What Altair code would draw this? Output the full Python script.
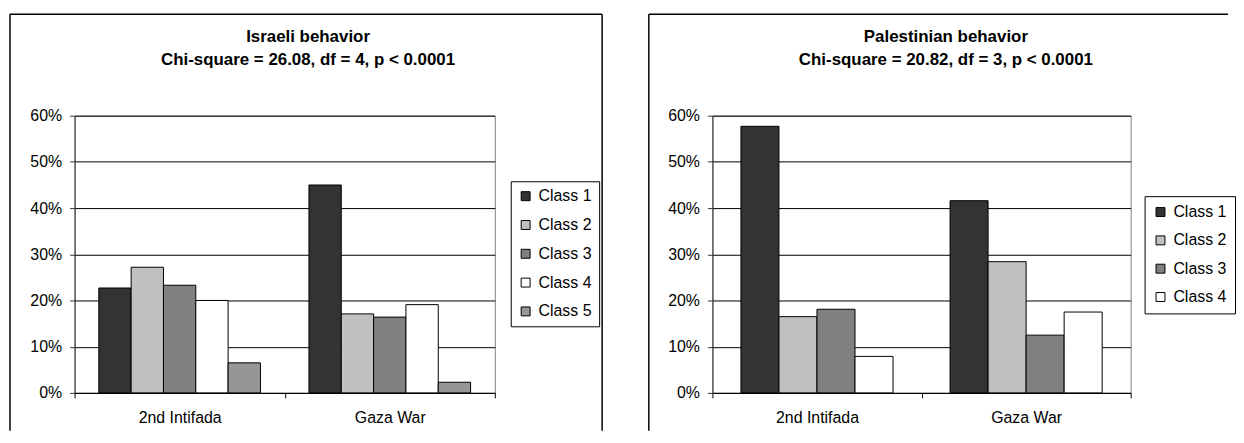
import altair as alt
import pandas as pd

PERIODS = ["2nd Intifada", "Gaza War"]

IL_CLASSES = ["Class 1", "Class 2", "Class 3", "Class 4", "Class 5"]
IL_INTIFADA = [22.7, 27.2, 23.3, 20.0, 6.5]
IL_GAZA = [45.0, 17.1, 16.4, 19.1, 2.3]
IL_TITLE = ["Israeli behavior", "Chi-square = 26.08, df = 4, p < 0.0001"]

PA_CLASSES = ["Class 1", "Class 2", "Class 3", "Class 4"]
PA_INTIFADA = [57.7, 16.5, 18.1, 7.9]
PA_GAZA = [41.6, 28.4, 12.5, 17.5]
PA_TITLE = ["Palestinian behavior", "Chi-square = 20.82, df = 3, p < 0.0001"]

CLASS_COLORS = ["#333333", "#c0c0c0", "#808080", "#ffffff", "#969696"]
Y_TICKS = [0, 10, 20, 30, 40, 50, 60]

FONT = "Liberation Sans"


def make_df(classes, intifada, gaza):
    rows = []
    for period, vals in zip(PERIODS, [intifada, gaza]):
        for c, v in zip(classes, vals):
            rows.append({"period": period, "cls": c, "value": v})
    return pd.DataFrame(rows)


def panel(df, classes, titles, width, legend_x, legend_y, row_pad, leg_pad,
          border_left, border_right, draw_right):
    one = pd.DataFrame({"k": [0]})
    bars = alt.Chart(df).mark_bar(stroke="black", strokeWidth=1).encode(
        x=alt.X("period:N", sort=PERIODS, title=None,
                scale=alt.Scale(paddingInner=0, paddingOuter=0),
                axis=alt.Axis(labelAngle=0, tickBand="extent", grid=False,
                              domainColor="#000000", tickColor="#000000",
                              tickSize=5, labelPadding=12, labelFontSize=16,
                              labelFont=FONT, labelColor="#000000")),
        xOffset=alt.XOffset("cls:N", sort=classes,
                            scale=alt.Scale(paddingInner=0, paddingOuter=0.75)),
        y=alt.Y("value:Q", title=None,
                scale=alt.Scale(domain=[0, 60], nice=False),
                axis=alt.Axis(values=Y_TICKS, labelExpr="datum.value + '%'",
                              grid=True, gridColor="#000000", gridWidth=1,
                              domainColor="#333333", tickColor="#333333",
                              tickSize=5, labelPadding=8, labelFontSize=16,
                              labelFont=FONT, labelColor="#000000")),
        color=alt.Color("cls:N", sort=classes,
                        scale=alt.Scale(domain=classes,
                                        range=CLASS_COLORS[:len(classes)]),
                        legend=alt.Legend(orient="none", legendX=legend_x,
                                          legendY=legend_y, title=None,
                                          symbolType="square", symbolSize=81,
                                          symbolStrokeColor="#000000",
                                          symbolStrokeWidth=1,
                                          labelFontSize=16, labelFont=FONT,
                                          labelColor="#000000",
                                          rowPadding=row_pad, padding=leg_pad,
                                          labelOffset=5,
                                          strokeColor="#000000",
                                          fillColor="#ffffff")),
    )
    t1 = alt.Chart(one).mark_text(fontSize=17, fontWeight="bold", font=FONT,
                                  align="center", baseline="middle",
                                  color="#000000").encode(
        x=alt.value(235), y=alt.value(-79), text=alt.value(titles[0]))
    t2 = alt.Chart(one).mark_text(fontSize=17, fontWeight="bold", font=FONT,
                                  align="center", baseline="middle",
                                  color="#000000").encode(
        x=alt.value(235), y=alt.value(-56), text=alt.value(titles[1]))
    rl = alt.Chart(one).mark_rule(color="#000000", strokeWidth=1.5).encode(
        x=alt.value(border_left), y=alt.value(-102), y2=alt.value(317))
    rt = alt.Chart(one).mark_rule(color="#000000", strokeWidth=1.5).encode(
        x=alt.value(border_left), x2=alt.value(border_right), y=alt.value(-102))
    layers = [bars, t1, t2, rl, rt]
    if draw_right:
        rr = alt.Chart(one).mark_rule(color="#000000", strokeWidth=1.5).encode(
            x=alt.value(border_right), y=alt.value(-102), y2=alt.value(317))
        layers.append(rr)
    return alt.layer(*layers).properties(width=width, height=279)


left = panel(make_df(IL_CLASSES, IL_INTIFADA, IL_GAZA), IL_CLASSES, IL_TITLE,
             423, 439, 66, 13, 7, -65, 531, True)
right = panel(make_df(PA_CLASSES, PA_INTIFADA, PA_GAZA), PA_CLASSES, PA_TITLE,
              421, 435, 81, 12.5, 8, -64, 519, False)

chart = alt.hconcat(left, right, spacing=219, bounds="flush").resolve_scale(
    x="independent", y="independent", xOffset="independent", color="independent"
).resolve_legend(color="independent").properties(
    padding={"left": 0, "top": 3, "right": 0, "bottom": 0}
).configure(font=FONT).configure_view(stroke="#808080", strokeWidth=1)

chart.save("out.html", embed_options={"renderer": "svg", "actions": False})
